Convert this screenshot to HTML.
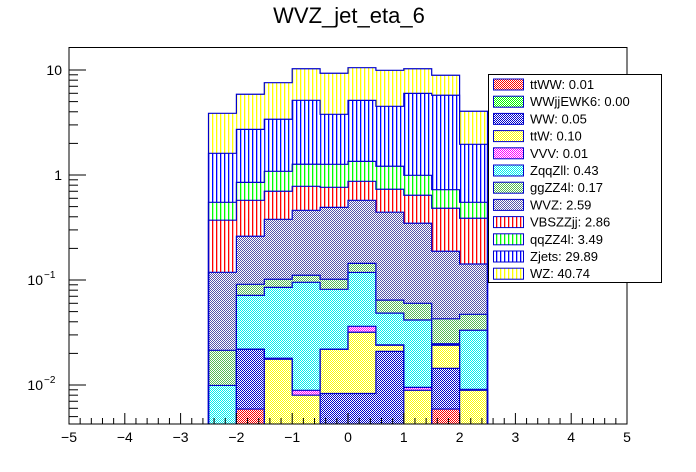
<!DOCTYPE html>
<html><head><meta charset="utf-8"><style>
html,body{margin:0;padding:0;background:#fff;}
svg{display:block;font-family:"Liberation Sans",Arial,sans-serif;}
</style></head><body>
<svg id="c" width="696" height="472" viewBox="0 0 696 472">
<defs>
<pattern id="p-red" width="2" height="2" patternUnits="userSpaceOnUse"><rect width="2" height="2" fill="#fff"/><rect width="1" height="1" fill="#f00"/><rect x="1" y="1" width="1" height="1" fill="#f00"/></pattern>
<pattern id="p-green" width="2" height="2" patternUnits="userSpaceOnUse"><rect width="2" height="2" fill="#fff"/><rect width="1" height="1" fill="#0f0"/><rect x="1" y="1" width="1" height="1" fill="#0f0"/></pattern>
<pattern id="p-blue" width="2" height="2" patternUnits="userSpaceOnUse"><rect width="2" height="2" fill="#fff"/><rect width="1" height="1" fill="#00c"/><rect x="1" y="1" width="1" height="1" fill="#00c"/></pattern>
<pattern id="p-yellow" width="2" height="2" patternUnits="userSpaceOnUse"><rect width="2" height="2" fill="#fff"/><rect width="1" height="1" fill="#ff0"/><rect x="1" y="1" width="1" height="1" fill="#ff0"/></pattern>
<pattern id="p-magenta" width="2" height="2" patternUnits="userSpaceOnUse"><rect width="2" height="2" fill="#fff"/><rect width="1" height="1" fill="#f0f"/><rect x="1" y="1" width="1" height="1" fill="#f0f"/></pattern>
<pattern id="p-cyan" width="2" height="2" patternUnits="userSpaceOnUse"><rect width="2" height="2" fill="#fff"/><rect width="1" height="1" fill="#0ee"/><rect x="1" y="1" width="1" height="1" fill="#0ee"/></pattern>
<pattern id="p-lgreen" width="2" height="2" patternUnits="userSpaceOnUse"><rect width="2" height="2" fill="#fff"/><rect width="1" height="1" fill="#5b5"/><rect x="1" y="1" width="1" height="1" fill="#5b5"/></pattern>
<pattern id="p-slate" width="2" height="2" patternUnits="userSpaceOnUse"><rect width="2" height="2" fill="#fff"/><rect width="1" height="1" fill="#55a"/><rect x="1" y="1" width="1" height="1" fill="#55a"/></pattern>
<pattern id="v-red" width="4" height="4" patternUnits="userSpaceOnUse"><rect width="4" height="4" fill="#fff"/><rect width="1.3" height="4" fill="#f00"/></pattern>
<pattern id="v-green" width="4" height="4" patternUnits="userSpaceOnUse"><rect width="4" height="4" fill="#fff"/><rect width="1.3" height="4" fill="#0f0"/></pattern>
<pattern id="v-blue" width="4" height="4" patternUnits="userSpaceOnUse"><rect width="4" height="4" fill="#fff"/><rect width="1.3" height="4" fill="#00f"/></pattern>
<pattern id="v-yellow" width="4" height="4" patternUnits="userSpaceOnUse"><rect width="4" height="4" fill="#fff"/><rect width="1.3" height="4" fill="#ff0"/></pattern>
<clipPath id="plotclip"><rect x="69" y="47.5" width="558" height="376.5"/></clipPath>
</defs>
<text x="349" y="23" text-anchor="middle" font-size="22">WVZ_jet_eta_6</text>
<g id="bars" clip-path="url(#plotclip)"></g>
<g id="axes"></g>
<g id="legend"></g>
</svg>
<script>
// bin edges and series (bottom to top of stack)
const binEdges = [-2.5,-2,-1.5,-1,-0.5,0,0.5,1,1.5,2,2.5];
const seriesNames = ["ttWW","WWjjEWK6","WW","ttW","VVV","ZqqZll","ggZZ4l","WVZ","VBSZZjj","qqZZ4l","Zjets","WZ"];
const seriesTotals = ["0.01","0.00","0.05","0.10","0.01","0.43","0.17","2.59","2.86","3.49","29.89","40.74"];
const ttWW     = [0,0.0059,0,0,0,0,0,0,0.0059,0];
const WWjjEWK6 = [0,0,0,0,0,0,0,0,0,0];
const WW       = [0,0.016,0,0,0.0083,0.0083,0.0209,0,0.0085,0];
const ttW      = [0,0,0.0176,0.008,0.0136,0.0235,0.003,0.0089,0.0095,0.0089];
const VVV      = [0,0,0.0004,0.0009,0,0.0044,0.0002,0.0006,0.0005,0.0002];
const ZqqZll   = [0.0099,0.0495,0.0671,0.0862,0.0596,0.0818,0.0243,0.0321,0.0003,0.0241];
const ggZZ4l   = [0.0115,0.0196,0.0165,0.0159,0.0201,0.026,0.0159,0.0184,0.018,0.0139];
const WVZ      = [0.097,0.170,0.277,0.350,0.390,0.430,0.378,0.287,0.145,0.095];
const VBSZZjj  = [0.253,0.313,0.322,0.319,0.272,0.297,0.289,0.294,0.295,0.245];
const qqZZ4l   = [0.178,0.277,0.384,0.485,0.501,0.478,0.48,0.352,0.242,0.162];
const Zjets    = [1.06,1.87,2.31,3.88,2.52,3.79,3.30,5.0,5.02,1.41];
const WZ       = [2.26,3.15,4.18,5.14,5.53,5.38,5.42,4.28,3.17,2.09];
const seriesValues = [ttWW,WWjjEWK6,WW,ttW,VVV,ZqqZll,ggZZ4l,WVZ,VBSZZjj,qqZZ4l,Zjets,WZ];
const fills = ["url(#p-red)","url(#p-green)","url(#p-blue)","url(#p-yellow)","url(#p-magenta)","url(#p-cyan)","url(#p-lgreen)","url(#p-slate)","url(#v-red)","url(#v-green)","url(#v-blue)","url(#v-yellow)"];
const xTicks = [-5,-4,-3,-2,-1,0,1,2,3,4,5];
const yDecades = [-2,-1,0,1];
const yLabelBase = ["10","10","1","10"];

const NS="http://www.w3.org/2000/svg";
const X0=69,X1=627,Y0=424,Y1=47.5;
function xs(v){return X0+(v+5)/10*(X1-X0);}
function ys(v){const L=Math.log10(Math.max(v,1e-6));return 385-(L+2)*105;}
function mk(tag,attrs,parent){const e=document.createElementNS(NS,tag);for(const k in attrs)e.setAttribute(k,attrs[k]);parent.appendChild(e);return e;}

const bars=document.getElementById('bars');
const nb=binEdges.length-1;
let cum=new Array(nb).fill(0);
const cumLevels=[];
seriesValues.forEach((vals,si)=>{
  const lo=cum.slice();
  const hi=cum.map((c,i)=>c+vals[i]);
  for(let i=0;i<nb;i++){
    if(vals[i]<=0)continue;
    const ya=Math.min(ys(hi[i]),430), yb=lo[i]>0?Math.min(ys(lo[i]),430):430;
    if(yb-ya<=0)continue;
    const r=mk('rect',{x:xs(binEdges[i]),y:ya,width:xs(binEdges[i+1])-xs(binEdges[i]),height:yb-ya,fill:fills[si]},bars);
    
    
  }
  cumLevels.push(hi);
  cum=hi;
});
cumLevels.forEach((hi,si)=>{
  if(seriesValues[si].every(v=>v===0))return;
  let d='';
  for(let i=0;i<nb;i++){
    const y=hi[i]>0?Math.min(ys(hi[i]),430):430;
    const xa=xs(binEdges[i]),xb=xs(binEdges[i+1]);
    d+=(i===0?'M'+xa+',430 L'+xa+','+y:' L'+xa+','+y)+' L'+xb+','+y;
  }
  d+=' L'+xs(binEdges[nb])+',430';
  const p=mk('path',{d:d,fill:'none',stroke:'#00c','stroke-width':1.2},bars);
  
  
});

const ax=document.getElementById('axes');
const frame=mk('rect',{x:X0,y:Y1,width:X1-X0,height:Y0-Y1,fill:'none',stroke:'#000','stroke-width':1},ax);


for(let v=-5;v<=5.001;v+=0.2){
  const x=xs(v); const major=Math.abs(v-Math.round(v))<0.01;
  const len=major?11:6;
  mk('line',{x1:x,y1:Y0,x2:x,y2:Y0-len,stroke:'#000','stroke-width':1},ax);
}
xTicks.forEach(t=>{
  const tx=mk('text',{x:xs(t),y:442,'text-anchor':'middle','font-size':14},ax);
  tx.textContent=(t<0?'\u2212'+(-t):''+t);
  
  
});
for(let d=-3;d<=1;d++){
  for(let m=1;m<=9;m++){
    const v=m*Math.pow(10,d); const y=ys(v);
    if(y>Y0||y<Y1)continue;
    mk('line',{x1:X0,y1:y,x2:X0+(m===1?17:9),y2:y,stroke:'#000','stroke-width':1},ax);
  }
}
yDecades.forEach((d,i)=>{
  const y=ys(Math.pow(10,d));
  const t=mk('text',{x:d<0?43:62,y:y+5,'text-anchor':'end','font-size':14},ax);
  t.textContent=yLabelBase[i];
  
  
  if(d<0){
    const s=mk('text',{x:44,y:y-2,'font-size':10},ax);
    s.textContent='\u2212'+(-d);
    
    
  }
});

const lg=document.getElementById('legend');
const box=mk('rect',{x:488.5,y:74.5,width:173,height:208,fill:'#fff',stroke:'#000','stroke-width':1},lg);


seriesNames.forEach((n,i)=>{
  const y=84+i*17.2;
  const sw=mk('rect',{x:493.5,y:y-5,width:30,height:11,fill:fills[i],stroke:'#00c','stroke-width':1},lg);
  
  
  const t=mk('text',{x:530,y:y+5,'font-size':13},lg);
  t.textContent=n+': '+seriesTotals[i];
  
  
});
</script>
</body></html>
